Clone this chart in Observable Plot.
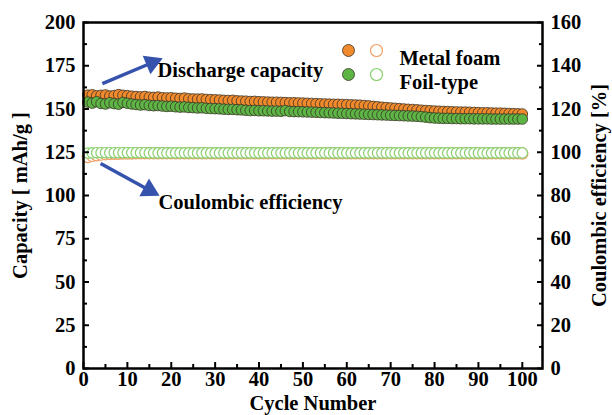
<!DOCTYPE html>
<html><head><meta charset="utf-8">
<script src="https://cdn.jsdelivr.net/npm/d3@7"></script>
<script src="https://cdn.jsdelivr.net/npm/@observablehq/plot@0.6"></script>
<style>
body{margin:0;background:#fff}
#chart{width:612px;height:415px}
</style>
</head><body><div id="chart"></div>
<script>
// ---- data ----
const cycles = d3.range(1, 101);
const seriesNames = ["Metal foam", "Foil-type"];
const foamCapacity = [
158.0,158.2,157.6,157.9,158.1,157.5,157.8,158.3,157.9,157.7,
157.4,157.2,157.0,157.2,156.8,156.7,156.9,156.5,156.4,156.5,
156.2,156.1,156.3,155.9,155.8,155.7,155.8,155.5,155.4,155.3,
155.2,155.0,154.9,155.0,154.7,154.6,154.5,154.3,154.4,154.2,
154.1,154.0,153.9,153.9,153.8,153.7,153.6,153.6,153.5,153.4,
153.3,153.2,153.1,153.0,152.9,152.8,152.7,152.7,152.6,152.5,
152.4,152.3,152.2,152.0,151.8,151.5,151.3,151.0,150.8,150.6,
150.4,150.2,150.0,149.8,149.7,149.5,149.3,149.1,149.0,148.8,
148.7,148.6,148.5,148.4,148.3,148.2,148.2,148.1,148.0,147.9,
147.8,147.8,147.7,147.6,147.6,147.5,147.4,147.3,147.2,147.1];
const foilCapacity = [
154.0,153.4,154.2,153.2,152.9,153.6,153.1,152.8,153.8,153.3,
152.9,152.6,152.3,152.5,152.1,151.9,152.0,151.7,151.5,151.6,
151.3,151.1,151.2,150.9,150.8,150.6,150.7,150.4,150.3,150.2,
150.1,149.9,149.8,149.8,149.6,149.5,149.3,149.1,149.2,149.0,
149.0,148.9,148.8,148.8,148.7,149.1,148.6,148.5,148.5,148.4,
148.3,148.2,148.1,148.0,147.9,147.8,147.7,147.6,147.5,147.4,
147.3,147.2,147.1,147.0,146.9,146.8,146.7,146.6,146.5,146.4,
146.3,146.2,146.1,146.0,145.9,145.8,145.6,145.3,145.0,144.8,
144.7,144.6,144.6,144.5,144.5,144.4,144.4,144.4,144.3,144.3,
144.3,144.3,144.2,144.2,144.2,144.2,144.2,144.2,144.2,144.2];
// Coulombic efficiency [%]
const foamEfficiency = [
97.8,98.3,98.6,98.9,99.1,99.2,99.3,99.3,99.4,99.4,
99.4,99.5,99.5,99.5,99.5,99.5,99.5,99.5,99.5,99.5,
99.5,99.5,99.5,99.5,99.5,99.5,99.5,99.5,99.5,99.5,
99.5,99.5,99.5,99.5,99.5,99.5,99.5,99.5,99.5,99.5,
99.5,99.5,99.5,99.5,99.5,99.5,99.5,99.5,99.5,99.5,
99.5,99.5,99.5,99.5,99.5,99.5,99.5,99.5,99.5,99.5,
99.5,99.5,99.5,99.5,99.5,99.5,99.5,99.5,99.5,99.5,
99.5,99.5,99.5,99.5,99.5,99.5,99.5,99.5,99.5,99.5,
99.5,99.5,99.5,99.5,99.5,99.5,99.5,99.5,99.5,99.5,
99.5,99.5,99.5,99.5,99.5,99.5,99.5,99.5,99.5,99.4];
const foilEfficiency = [
99.6,99.7,99.8,99.8,99.8,99.8,99.8,99.8,99.8,99.8,
99.8,99.8,99.8,99.8,99.7,99.7,99.7,99.7,99.7,99.7,
99.7,99.7,99.7,99.7,99.7,99.7,99.7,99.7,99.7,99.7,
99.7,99.7,99.7,99.7,99.7,99.7,99.7,99.7,99.7,99.7,
99.7,99.7,99.7,99.7,99.7,99.7,99.7,99.7,99.7,99.7,
99.7,99.7,99.7,99.7,99.7,99.7,99.7,99.7,99.7,99.7,
99.7,99.7,99.7,99.7,99.7,99.7,99.7,99.7,99.7,99.7,
99.7,99.7,99.7,99.7,99.7,99.7,99.7,99.7,99.7,99.7,
99.7,99.7,99.7,99.7,99.7,99.7,99.7,99.7,99.7,99.7,
99.7,99.7,99.7,99.7,99.7,99.7,99.7,99.7,99.7,99.7];
const xTicks = [0,10,20,30,40,50,60,70,80,90,100];
const xMinorTicks = [5,15,25,35,45,55,65,75,85,95];
const yTicks = [0,25,50,75,100,125,150,175,200];
const yMinorTicks = [12.5,37.5,62.5,87.5,112.5,137.5,162.5,187.5];
const rightTickLabels = [0,20,40,60,80,100,120,140,160];
const annotations = ["Discharge capacity", "Coulombic efficiency"];
const axisTitles = ["Cycle Number", "Capacity [ mAh/g ]", "Coulombic efficiency [%]"];

// ---- derived tables ----
const effScale = 200 / 160; // right axis (%) mapped onto left axis
const cap = (vals) => cycles.map((c, i) => ({cycle: c, value: vals[i]}));
const eff = (vals) => cycles.map((c, i) => ({cycle: c, value: vals[i] * effScale}));

const colors = {
  foamFill: "#f08a2c", foilFill: "#5cb545",
  foamOpen: "#f2a068", foilOpen: "#86cf6c",
  edge: "#3b3226", arrow: "#3553ad"
};
const font = "'Liberation Serif','Times New Roman',serif";
const blank = () => "";
const fs = 20.5;

const chart = Plot.plot({
  width: 612, height: 415,
  marginLeft: 83, marginRight: 70, marginTop: 22, marginBottom: 47,
  x: {domain: [0, 104.6]},
  y: {domain: [0, 200]},
  style: {fontFamily: font, fontSize: "20.5px", fontWeight: "bold", background: "#fff", color: "#000"},
  marks: [
    // efficiency (open circles)
    Plot.dot(eff(foamEfficiency), {x: "cycle", y: "value", r: 5.6, fill: "#fff", stroke: colors.foamOpen, strokeWidth: 1.2}),
    Plot.dot(eff(foilEfficiency), {x: "cycle", y: "value", r: 5.2, fill: "#fff", stroke: colors.foilOpen, strokeWidth: 1.2}),
    // capacity (filled circles)
    Plot.dot(cap(foamCapacity), {x: "cycle", y: "value", r: 5.3, fill: colors.foamFill, stroke: colors.edge, strokeWidth: 0.8}),
    Plot.dot(cap(foilCapacity), {x: "cycle", y: "value", r: 5.3, fill: colors.foilFill, stroke: colors.edge, strokeWidth: 0.8}),

    // annotations
    Plot.text([annotations[0]], {frameAnchor: "top-left", dx: 74, dy: 40, text: d => d, textAnchor: "start", fontSize: fs}),
    Plot.text([annotations[1]], {frameAnchor: "top-left", dx: 75, dy: 172, text: d => d, textAnchor: "start", fontSize: fs}),
    Plot.link([{x1: 4.3, y1: 164.7, x2: 15.2, y2: 176.3}], {x1: "x1", y1: "y1", x2: "x2", y2: "y2", stroke: colors.arrow, strokeWidth: 3.5}),
    Plot.dot([{x: 15.6, y: 176.7}], {x: "x", y: "y", symbol: "triangle", r: 7.5, fill: colors.arrow, rotate: 67.5}),
    Plot.link([{x1: 3.9, y1: 118.5, x2: 14.6, y2: 103.6}], {x1: "x1", y1: "y1", x2: "x2", y2: "y2", stroke: colors.arrow, strokeWidth: 3.5}),
    Plot.dot([{x: 15.0, y: 103.1}], {x: "x", y: "y", symbol: "triangle", r: 7.5, fill: colors.arrow, rotate: 118.3}),

    // legend
    Plot.dot([seriesNames[0]], {frameAnchor: "top-left", dx: 265, dy: 28, r: 6, fill: colors.foamFill, stroke: colors.edge, strokeWidth: 0.8}),
    Plot.dot([seriesNames[0]], {frameAnchor: "top-left", dx: 293, dy: 28, r: 6, fill: "#fff", stroke: colors.foamOpen, strokeWidth: 1.2}),
    Plot.text([seriesNames[0]], {frameAnchor: "top-left", dx: 316, dy: 28, text: d => d, textAnchor: "start", fontSize: fs}),
    Plot.dot([seriesNames[1]], {frameAnchor: "top-left", dx: 265, dy: 52, r: 6, fill: colors.foilFill, stroke: colors.edge, strokeWidth: 0.8}),
    Plot.dot([seriesNames[1]], {frameAnchor: "top-left", dx: 293, dy: 52, r: 6, fill: "#fff", stroke: colors.foilOpen, strokeWidth: 1.2}),
    Plot.text([seriesNames[1]], {frameAnchor: "top-left", dx: 316, dy: 52, text: d => d, textAnchor: "start", fontSize: fs}),

    // left axis
    Plot.axisY({anchor: "left", ticks: yTicks, tickSize: 0, tickPadding: 8, label: null}),
    Plot.axisY({anchor: "left", ticks: yTicks, tickSize: 6, dx: 6, tickFormat: blank, label: null, strokeWidth: 2}),
    Plot.axisY({anchor: "left", ticks: yMinorTicks, tickSize: 4, dx: 4, tickFormat: blank, label: null, strokeWidth: 2}),
    // right axis
    Plot.axisY({anchor: "right", ticks: yTicks, tickSize: 0, tickPadding: 8, tickFormat: (d, i) => rightTickLabels[i], label: null}),
    Plot.axisY({anchor: "right", ticks: yTicks, tickSize: 6, dx: -6, tickFormat: blank, label: null, strokeWidth: 2}),
    Plot.axisY({anchor: "right", ticks: yMinorTicks, tickSize: 4, dx: -4, tickFormat: blank, label: null, strokeWidth: 2}),
    // bottom axis
    Plot.axisX({anchor: "bottom", ticks: xTicks, tickSize: 0, tickPadding: 3, label: null}),
    Plot.axisX({anchor: "bottom", ticks: xTicks, tickSize: 6, dy: -6, tickFormat: blank, label: null, strokeWidth: 2}),
    Plot.axisX({anchor: "bottom", ticks: xMinorTicks, tickSize: 4, dy: -4, tickFormat: blank, label: null, strokeWidth: 2}),

    // axis titles
    Plot.text([axisTitles[0]], {frameAnchor: "bottom", dy: 35, text: d => d, fontSize: fs, textAnchor: "middle", lineAnchor: "middle"}),
    Plot.text([axisTitles[1]], {frameAnchor: "left", dx: -63, text: d => d, rotate: -90, fontSize: fs, textAnchor: "middle", lineAnchor: "middle"}),
    Plot.text([axisTitles[2]], {frameAnchor: "right", dx: 57, text: d => d, rotate: -90, fontSize: fs, textAnchor: "middle", lineAnchor: "middle"}),

    Plot.frame({stroke: "#000", strokeWidth: 2.5})
  ]
});
document.getElementById("chart").appendChild(chart);
</script>
</body></html>
